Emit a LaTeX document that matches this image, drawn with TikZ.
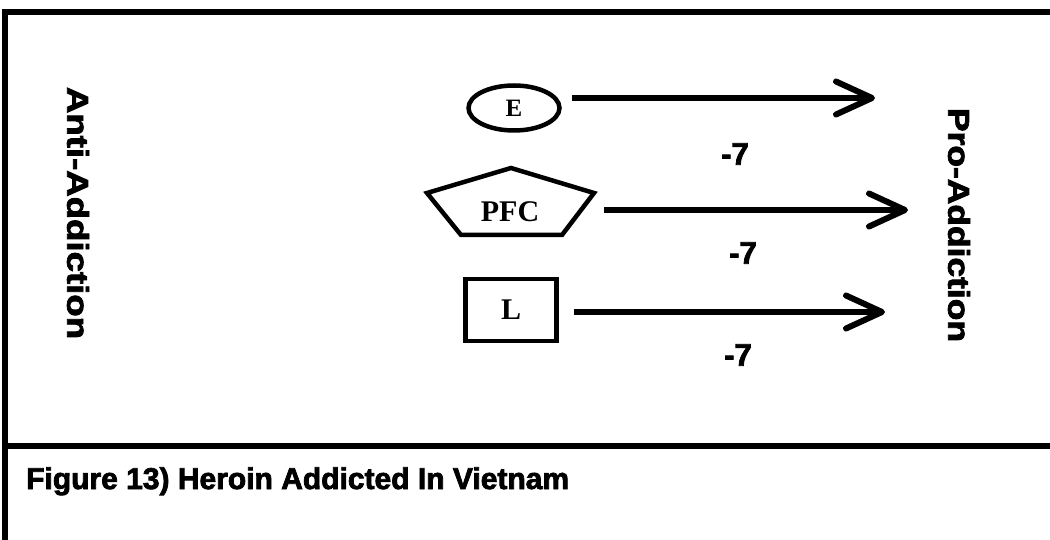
\documentclass[tikz,border=0pt]{standalone}
\usepackage{fontspec}
\setmainfont{Liberation Sans}
\newfontfamily\heavyfont{Liberation Sans}[BoldFeatures={FakeBold=2.5}]
\newfontfamily\shapefont{Liberation Serif}
\usetikzlibrary{positioning, arrows.meta, shapes.geometric}

\begin{document}
\begin{tikzpicture}[
    x=1pt, y=-1pt,
    frame/.style={line width=5.5pt},
    oval/.style={ellipse, draw, line width=4.5pt, minimum width=91pt, minimum height=45pt, inner sep=0pt, font=\shapefont\bfseries\fontsize{25}{25}\selectfont},
    box/.style={rectangle, draw, line width=4.5pt, minimum width=91pt, minimum height=62pt, inner sep=0pt, font=\shapefont\bfseries\fontsize{30}{30}\selectfont},
    tag/.style={inner sep=0pt, font=\shapefont\bfseries\fontsize{30}{30}\selectfont},
    side/.style={rotate=-90, inner sep=0pt, font=\heavyfont\bfseries\fontsize{30}{30}\selectfont},
    weight/.style={inner sep=0pt, font=\heavyfont\bfseries\fontsize{31}{31}\selectfont},
    arrow/.style={-{Straight Barb[length=36pt, width=33pt, line cap=round, line join=round]}, line width=6pt}
]
\useasboundingbox (0,0) rectangle (1050,540);

% Frame
\draw[frame, line join=miter] (5,540) -- (5,12) -- (1050,12);
\draw[frame, line width=6pt] (5,446) -- (1050,446);

% Nodes
\node (Anti) [side] at (78,213) {\scalebox{1.22}[1]{Anti-Addiction}};
\node (Pro) [side] at (959,225) {\scalebox{1.18}[1]{Pro-Addiction}};

\node (E) [oval] at (514,108) {E};
\node (PFC) [tag] at (510,212) {PFC};
\draw[line width=4.5pt, line join=miter, shift={(PFC.center)}]
    (1,-44) -- (84,-19) coordinate (PFCtip) -- (52,23) -- (-49,23) -- (-83,-19) -- cycle;
\node (L) [box] at (511,310) {L};

\coordinate (ETip) at (875,98);
\coordinate (PFCEnd) at (908,210);
\coordinate (LTip) at (885,312);

\node (wE) [weight] at (735,154) {-7};
\node (wPFC) [weight] at (743,253) {-7};
\node (wL) [weight] at (738,355) {-7};

\node (Caption) [anchor=base west, inner sep=0pt, font=\heavyfont\bfseries\fontsize{30}{30}\selectfont] at (26,489) {Figure 13) Heroin Addicted In Vietnam};

% Arrows
\draw [arrow, shorten <=10pt] (E.east |- ETip) -- (ETip);
\draw [arrow, shorten <=10pt] (PFCtip |- PFCEnd) -- (PFCEnd);
\draw [arrow, shorten <=15pt] (L.east |- LTip) -- (LTip);

\end{tikzpicture}
\end{document}
